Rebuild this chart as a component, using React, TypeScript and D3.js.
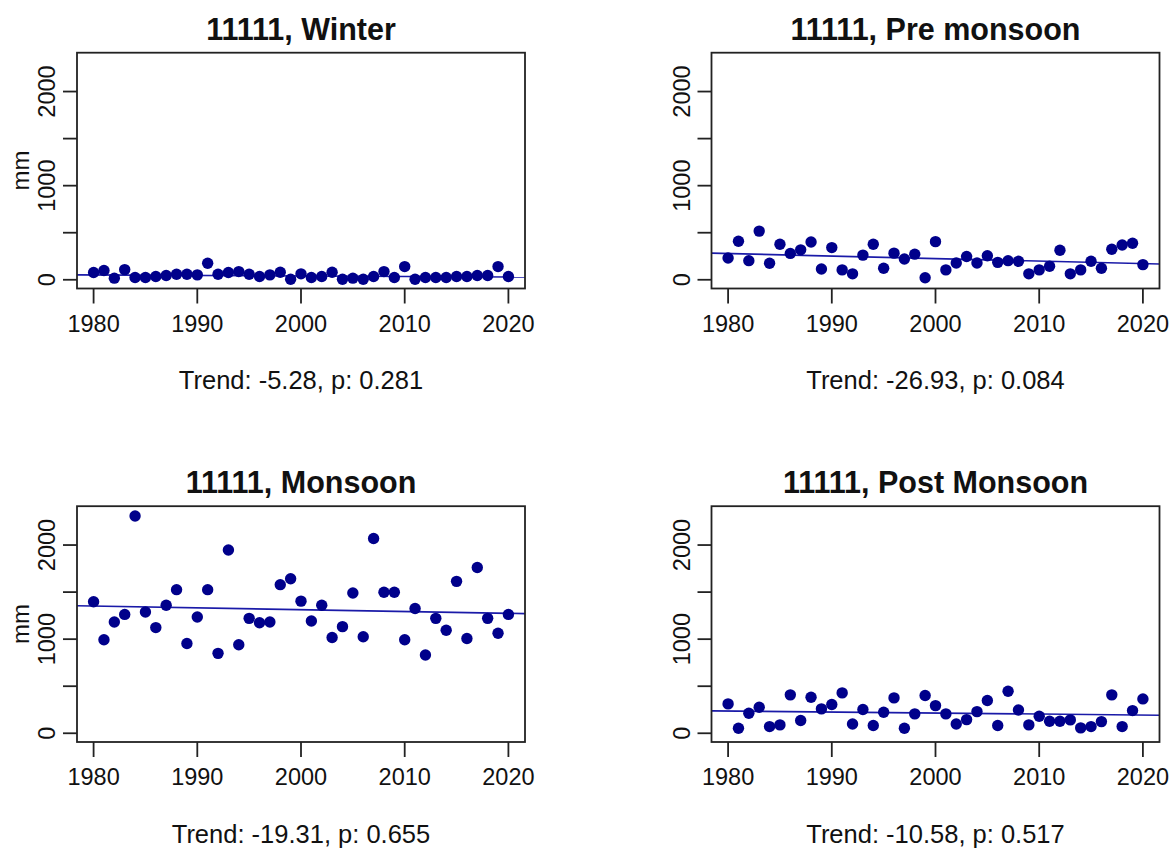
import React from "react";
import * as d3 from "d3";

const years: number[] = d3.range(1980, 2021);

const winter: number[] = [77, 98, 17, 108, 24, 24, 35, 45, 59, 59, 52, 175, 59, 77, 87, 59, 35, 52, 80, 5,
  63, 24, 35, 80, 5, 17, 5, 35, 87, 24, 140, 5, 24, 24, 24, 35, 35, 45, 45, 140, 35];
const preMonsoon: number[] = [231, 409, 203, 517, 175, 377, 280, 318, 402, 115, 342, 105, 63, 262, 377, 122, 283, 220, 272, 21,
  405, 105, 178, 248, 178, 255, 185, 203, 196, 63, 105, 143, 314, 63, 105, 196, 122, 325, 370, 388, 161];
const monsoon: number[] = [1397, 993, 1183, 1263, 2309, 1288, 1123, 1361, 1526, 954, 1235, 1526, 849, 1947, 940, 1221, 1175, 1183, 1579, 1642,
  1404, 1193, 1361, 1018, 1133, 1491, 1025, 2070, 1498, 1498, 993, 1326, 832, 1221, 1095, 1614, 1007, 1762, 1221, 1063, 1263];
const postMonsoon: number[] = [312, 53, 213, 277, 71, 89, 408, 135, 383, 259, 305, 429, 99, 252, 82, 223, 376, 53, 206, 401,
  294, 206, 99, 145, 230, 348, 82, 447, 248, 89, 181, 128, 128, 142, 57, 71, 124, 408, 71, 241, 365];

const titles: string[] = ["11111, Winter", "11111, Pre monsoon", "11111, Monsoon", "11111, Post Monsoon"];
const trendTexts: string[] = ["Trend: -5.28, p: 0.281", "Trend: -26.93, p: 0.084", "Trend: -19.31, p: 0.655", "Trend: -10.58, p: 0.517"];
// fitted trend line value at 1980 and slope per decade
const trendAt1980: number[] = [51, 279, 1352, 236];
const trendSlopePerDecade: number[] = [-5.28, -26.93, -19.31, -10.58];

const xTicks: number[] = [1980, 1990, 2000, 2010, 2020];
const yTicks: number[] = [0, 500, 1000, 1500, 2000];
const yLabels: number[] = [0, 1000, 2000];

const seriesList = [winter, preMonsoon, monsoon, postMonsoon];

const FONT = "'Liberation Sans', Arial, Helvetica, sans-serif";

function Panel({ idx, ox, oy }: { idx: number; ox: number; oy: number }) {
  const data = seriesList[idx];
  const left = 77, right = 525, top = 52.7, bottom = 288.5;
  const x = d3.scaleLinear().domain([1978.4, 2021.6]).range([left, right]);
  const y = d3.scaleLinear().domain([-92.8, 2412.8]).range([bottom, top]);
  const slope = trendSlopePerDecade[idx] / 10;
  const t0 = trendAt1980[idx];
  const tl = (yr: number) => t0 + slope * (yr - 1980);
  const line = d3.line<number>().x((d) => x(d)).y((d) => y(tl(d)));
  const cx = (left + right) / 2;
  const showMm = ox === 0;
  return (
    <g transform={`translate(${ox},${oy})`} fontFamily={FONT}>
      <text x={cx} y={39.5} textAnchor="middle" fontWeight="bold" fontSize={30.5} fill="#111">
        {titles[idx]}
      </text>
      <path d={line([1978.4, 2021.6]) || ""} stroke="#1a1aa8" strokeWidth={1.6} fill="none" />
      {data.map((v, i) => (
        <circle key={i} cx={x(years[i])} cy={y(v)} r={5.7} fill="#00008B" />
      ))}
      <rect x={left} y={top} width={right - left} height={bottom - top} fill="none" stroke="#222" strokeWidth={1.8} />
      {xTicks.map((t) => (
        <g key={t}>
          <line x1={x(t)} x2={x(t)} y1={bottom} y2={bottom + 15} stroke="#222" strokeWidth={1.8} />
          <text x={x(t)} y={bottom + 43} textAnchor="middle" fontSize={23.5} fill="#111">{t}</text>
        </g>
      ))}
      {yTicks.map((t) => (
        <line key={t} x1={left - 14} x2={left} y1={y(t)} y2={y(t)} stroke="#222" strokeWidth={1.8} />
      ))}
      {yLabels.map((t) => (
        <text key={t} transform={`translate(${left - 22},${y(t)}) rotate(-90)`} textAnchor="middle" fontSize={23.5} fill="#111">
          {t}
        </text>
      ))}
      {showMm && (
        <text transform={`translate(29,${(top + bottom) / 2}) rotate(-90)`} textAnchor="middle" fontSize={24} fill="#111">
          mm
        </text>
      )}
      <text x={cx} y={389} textAnchor="middle" fontSize={25.5} fill="#111">
        {trendTexts[idx]}
      </text>
    </g>
  );
}

export default function App() {
  return (
    <svg width={1174} height={848} style={{ position: "absolute", left: 0, top: 0, background: "#fff" }}>
      <rect width={1174} height={848} fill="#fff" />
      <Panel idx={0} ox={0} oy={0} />
      <Panel idx={1} ox={634.5} oy={0} />
      <Panel idx={2} ox={0} oy={453.5} />
      <Panel idx={3} ox={634.5} oy={453.5} />
    </svg>
  );
}
